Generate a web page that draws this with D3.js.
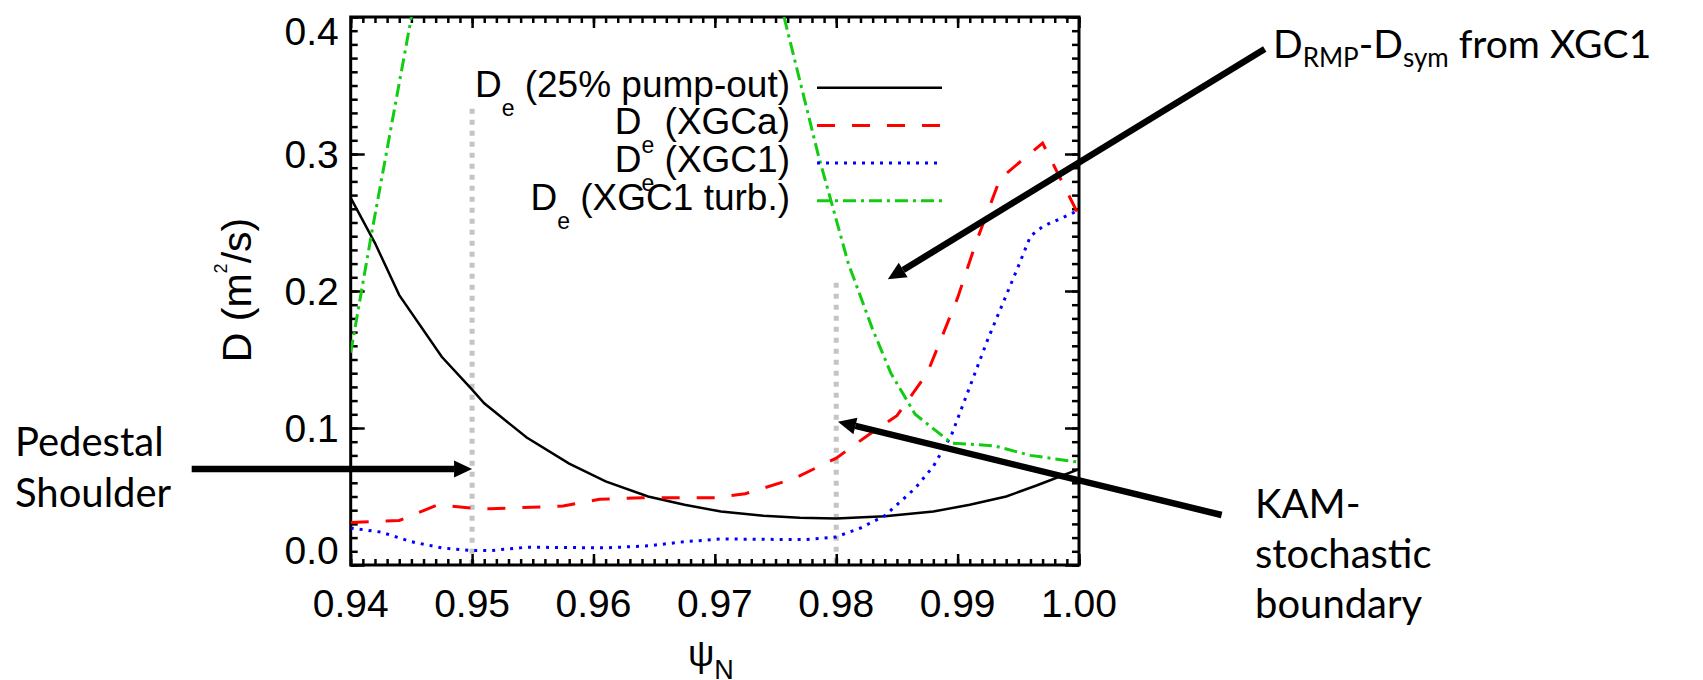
<!DOCTYPE html>
<html>
<head>
<meta charset="utf-8">
<script src="https://cdn.jsdelivr.net/npm/d3@7"></script>
<style>
  body { margin: 0; background: #fff; }
  svg { display: block; }
  .tick-label { font-family: "Liberation Sans", Arial, sans-serif; fill: #000; }
  .note { font-family: Lato, "Open Sans", sans-serif; fill: #000; }
</style>
</head>
<body>
<svg id="chart"></svg>
<script>
// psi_N grid and diffusivities (m^2/s)
const pumpPsi = [0.940, 0.942, 0.944, 0.9475, 0.950, 0.951, 0.9545, 0.958, 0.961, 0.9645, 0.9675, 0.9705, 0.974, 0.977, 0.980, 0.984, 0.988, 0.991, 0.994, 0.9965, 1.000];
const pumpD   = [0.268, 0.235, 0.197, 0.152, 0.128, 0.118, 0.093, 0.074, 0.061, 0.050, 0.044, 0.039, 0.036, 0.0345, 0.034, 0.0355, 0.039, 0.044, 0.050, 0.058, 0.070];

const xgcaPsi = [0.940, 0.944, 0.9472, 0.950, 0.9515, 0.9575, 0.9605, 0.964, 0.970, 0.9725, 0.9765, 0.980, 0.9825, 0.985, 0.9875, 0.990, 0.9915, 0.9935, 0.997, 1.000];
const xgcaD   = [0.031, 0.0325, 0.044, 0.0415, 0.041, 0.043, 0.048, 0.049, 0.049, 0.052, 0.063, 0.078, 0.094, 0.109, 0.140, 0.195, 0.235, 0.282, 0.308, 0.255];

const xgc1Psi = [0.940, 0.9425, 0.945, 0.9475, 0.950, 0.9515, 0.9545, 0.961, 0.9645, 0.9675, 0.9705, 0.9775, 0.980, 0.982, 0.984, 0.9865, 0.988, 0.9895, 0.991, 0.9925, 0.995, 0.996, 0.997, 1.000];
const xgc1D   = [0.027, 0.024, 0.017, 0.0125, 0.0105, 0.0105, 0.013, 0.0125, 0.014, 0.017, 0.019, 0.0185, 0.0205, 0.027, 0.036, 0.056, 0.072, 0.095, 0.130, 0.165, 0.218, 0.240, 0.247, 0.259];

// turbulent part runs off the top of the frame between the two branches
const turbPsi = [0.940, 0.9417, 0.945, 0.960, 0.9757, 0.9785, 0.981, 0.983, 0.9845, 0.9865, 0.9895, 0.993, 0.996, 1.000];
const turbD   = [0.155, 0.241, 0.400, null, 0.400, 0.300, 0.220, 0.172, 0.140, 0.110, 0.089, 0.087, 0.080, 0.075];

const seriesNames = ["(25% pump-out)", "(XGCa)", "(XGC1)", "(XGC1 turb.)"];

// vertical markers: pedestal shoulder and KAM-stochastic boundary
const markerPsi = [0.95, 0.98];
const markerTop = [0.333, 0.206];

const xTicks = [0.94, 0.95, 0.96, 0.97, 0.98, 0.99, 1.00];
const yTicks = [0.0, 0.1, 0.2, 0.3, 0.4];

const W = 1703, H = 680;
const plot = { left: 350.7, right: 1079, top: 17, bottom: 565 };

const svg = d3.select("#chart").attr("width", W).attr("height", H);

const x = d3.scaleLinear().domain([0.94, 1.00]).range([plot.left, plot.right]);
const y = d3.scaleLinear().domain([0, 0.4]).range([plot.bottom, plot.top]);

svg.append("defs").append("clipPath").attr("id", "clip")
  .append("rect")
  .attr("x", plot.left).attr("y", plot.top)
  .attr("width", plot.right - plot.left).attr("height", plot.bottom - plot.top);

// gray dotted markers
const markers = markerPsi.map((p, i) => ({ psi: p, top: markerTop[i] }));
svg.append("g").selectAll("line").data(markers).enter().append("line")
  .attr("x1", d => x(d.psi)).attr("x2", d => x(d.psi))
  .attr("y1", d => y(d.top)).attr("y2", y(0))
  .attr("stroke", "#c4c4c4").attr("stroke-width", 5)
  .attr("stroke-dasharray", "5,6");

// ticks, all four sides pointing inwards
const minorX = d3.range(61).map(i => 0.94 + i * 0.001);
const minorY = d3.range(41).map(i => i * 0.01);

function tickAxis(axis, transform) {
  const g = svg.append("g").attr("transform", transform).call(axis);
  g.select(".domain").remove();
  g.selectAll(".tick line").attr("stroke", "#000").attr("stroke-width", 2.5);
  g.selectAll(".tick text").remove();
  return g;
}
tickAxis(d3.axisBottom(x).tickValues(minorX).tickSize(-6).tickFormat(""), `translate(0,${plot.bottom})`);
tickAxis(d3.axisBottom(x).tickValues(xTicks).tickSize(-11).tickFormat(""), `translate(0,${plot.bottom})`);
tickAxis(d3.axisTop(x).tickValues(minorX).tickSize(-6).tickFormat(""), `translate(0,${plot.top})`);
tickAxis(d3.axisTop(x).tickValues(xTicks).tickSize(-11).tickFormat(""), `translate(0,${plot.top})`);
tickAxis(d3.axisLeft(y).tickValues(minorY).tickSize(-7).tickFormat(""), `translate(${plot.left},0)`);
tickAxis(d3.axisLeft(y).tickValues(yTicks).tickSize(-14).tickFormat(""), `translate(${plot.left},0)`);
tickAxis(d3.axisRight(y).tickValues(minorY).tickSize(-7).tickFormat(""), `translate(${plot.right},0)`);
tickAxis(d3.axisRight(y).tickValues(yTicks).tickSize(-14).tickFormat(""), `translate(${plot.right},0)`);

svg.append("rect")
  .attr("x", plot.left).attr("y", plot.top)
  .attr("width", plot.right - plot.left).attr("height", plot.bottom - plot.top)
  .attr("fill", "none").attr("stroke", "#000").attr("stroke-width", 3);

// tick labels
svg.append("g").selectAll("text").data(xTicks).enter().append("text")
  .attr("class", "tick-label")
  .attr("x", d => x(d)).attr("y", plot.bottom + 52)
  .attr("text-anchor", "middle").attr("font-size", 39)
  .text(d => d3.format(".2f")(d));

// end labels are kept inside the frame height, like the original
svg.append("g").selectAll("text").data(yTicks).enter().append("text")
  .attr("class", "tick-label")
  .attr("x", plot.left - 12).attr("y", d => Math.min(Math.max(y(d), plot.top + 14), plot.bottom - 15) + 14)
  .attr("text-anchor", "end").attr("font-size", 39)
  .text(d => d3.format(".1f")(d));

// axis titles
const xt = svg.append("text").attr("class", "tick-label")
  .attr("x", (plot.left + plot.right) / 2 - 4).attr("y", 666)
  .attr("text-anchor", "middle").attr("font-size", 37);
xt.append("tspan").text("ψ");
xt.append("tspan").attr("dy", 13).attr("font-size", 27).text("N");

const yt = svg.append("text").attr("class", "tick-label")
  .attr("transform", "translate(251,290) rotate(-90)")
  .attr("text-anchor", "middle").attr("font-size", 41);
yt.append("tspan").text("D (m");
yt.append("tspan").attr("dy", -24).attr("font-size", 18).text("2");
yt.append("tspan").attr("dy", 24).text("/s)");

// curves
const line = d3.line()
  .defined(d => d[1] != null)
  .x(d => x(d[0])).y(d => y(d[1]));

const series = [
  { psi: pumpPsi, d: pumpD, color: "#000000", width: 2.5, dash: null },
  { psi: xgcaPsi, d: xgcaD, color: "#ff0000", width: 3, dash: "18,17" },
  { psi: xgc1Psi, d: xgc1D, color: "#0000ff", width: 3, dash: "3,6" },
  { psi: turbPsi, d: turbD, color: "#11cc11", width: 3, dash: "13,5,3,5" }
];

const curves = svg.append("g").attr("clip-path", "url(#clip)");
series.forEach(s => {
  curves.append("path")
    .datum(s.psi.map((p, i) => [p, s.d[i]]))
    .attr("d", line)
    .attr("fill", "none")
    .attr("stroke", s.color)
    .attr("stroke-width", s.width)
    .attr("stroke-dasharray", s.dash);
});

// legend
const legend = svg.append("g");
series.forEach((s, i) => {
  const base = 96.7 + i * 37.7;
  const t = legend.append("text").attr("class", "tick-label")
    .attr("x", 790).attr("y", base).attr("text-anchor", "end").attr("font-size", 37);
  t.append("tspan").text("D");
  t.append("tspan").attr("dy", 19).attr("font-size", 23).text("e");
  t.append("tspan").attr("dy", -19).text("  " + seriesNames[i]);
  legend.append("line")
    .attr("x1", 817).attr("x2", 942)
    .attr("y1", base - 9).attr("y2", base - 9)
    .attr("stroke", s.color).attr("stroke-width", s.width)
    .attr("stroke-dasharray", s.dash);
});

// annotation arrows (data units so they follow the scales)
const arrows = [
  { from: [1.0153, 0.3766], to: [0.98425, 0.2085] },
  { from: [0.9269, 0.070], to: [0.9500, 0.070] },
  { from: [1.01175, 0.0365], to: [0.98014, 0.1046] }
];
const ann = svg.append("g");
arrows.forEach(a => {
  const x1 = x(a.from[0]), y1 = y(a.from[1]), x2 = x(a.to[0]), y2 = y(a.to[1]);
  const ang = Math.atan2(y2 - y1, x2 - x1);
  const len = 18, half = 8.5;
  const bx = x2 - len * Math.cos(ang), by = y2 - len * Math.sin(ang);
  ann.append("line")
    .attr("x1", x1).attr("y1", y1).attr("x2", bx).attr("y2", by)
    .attr("stroke", "#000").attr("stroke-width", 6.5);
  ann.append("path")
    .attr("d", `M${x2},${y2}L${bx - half * Math.sin(ang)},${by + half * Math.cos(ang)}L${bx + half * Math.sin(ang)},${by - half * Math.cos(ang)}Z`)
    .attr("fill", "#000");
});

// annotation text
const t1 = svg.append("text").attr("class", "note").attr("x", 1273).attr("y", 58).attr("font-size", 39);
t1.append("tspan").text("D");
t1.append("tspan").attr("dy", 9).attr("font-size", 26).text("RMP");
t1.append("tspan").attr("dy", -9).text("-D");
t1.append("tspan").attr("dy", 9).attr("font-size", 26).text("sym");
t1.append("tspan").attr("dy", -9).text(" from XGC1");

const ped = svg.append("text").attr("class", "note").attr("font-size", 40);
ped.append("tspan").attr("x", 15).attr("y", 456).text("Pedestal");
ped.append("tspan").attr("x", 15).attr("y", 507).text("Shoulder");

const kam = svg.append("text").attr("class", "note").attr("font-size", 40);
kam.append("tspan").attr("x", 1255).attr("y", 518).text("KAM-");
kam.append("tspan").attr("x", 1255).attr("y", 568).text("stochastic");
kam.append("tspan").attr("x", 1255).attr("y", 618).text("boundary");
</script>
</body>
</html>
